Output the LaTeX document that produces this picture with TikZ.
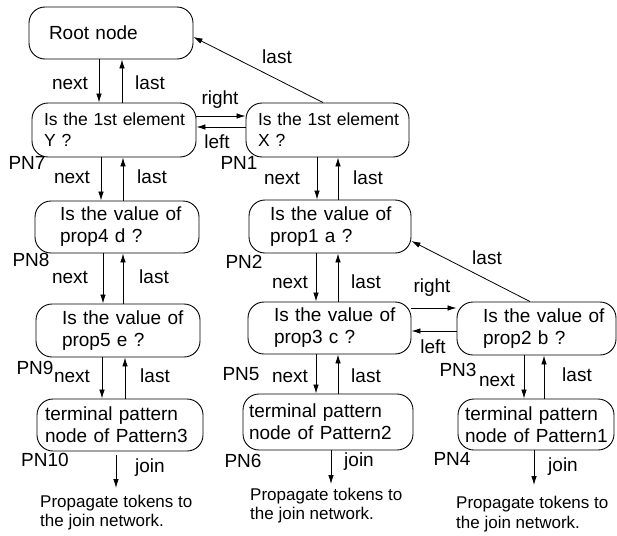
\documentclass[tikz,border=0pt]{standalone}
\usepackage{fontspec}
\setmainfont{Liberation Sans}
\usetikzlibrary{arrows.meta}
\begin{document}
\begin{tikzpicture}[x=1pt,y=-1pt,
  box/.style={draw, line width=0.9pt, rounded corners=16pt, align=left, inner ysep=1pt, font=\fontsize{19}{22}\selectfont},
  smallbox/.style={box, font=\fontsize{17.5}{21}\selectfont},
  arr/.style={line width=0.8pt, -{Latex[length=9pt,width=5.5pt]}},
  lbl/.style={inner sep=0pt, font=\fontsize{19}{22}\selectfont},
  note/.style={inner sep=0pt, align=left, anchor=west, font=\fontsize{17}{19.5}\selectfont}]
\useasboundingbox (0,0) rectangle (617,535);

% boxes
\node[box, inner xsep=20pt, text width=124pt, minimum height=52pt] (root) at (111,33) {\mbox{Root node}};
\node[smallbox, inner xsep=12pt, text width=140pt, minimum height=54pt] (pn7) at (114,130) {\mbox{Is the 1st element}\\\mbox{Y ?}};
\node[smallbox, inner xsep=12pt, text width=139pt, minimum height=54pt] (pn1) at (327.5,130) {\mbox{Is the 1st element}\\\mbox{X ?}};
\node[box, inner xsep=25pt, text width=114pt, minimum height=52pt] (pn8) at (117,227) {\mbox{Is the value of}\\\mbox{prop4 d ?}};
\node[box, inner xsep=21pt, text width=120pt, minimum height=53pt] (pn2) at (330,226.5) {\mbox{Is the value of}\\\mbox{prop1 a ?}};
\node[box, inner xsep=26pt, text width=112pt, minimum height=53pt] (pn9) at (118,330.5) {\mbox{Is the value of}\\\mbox{prop5 e ?}};
\node[box, inner xsep=26pt, text width=111pt, minimum height=52pt] (pn5) at (329.5,328) {\mbox{Is the value of}\\\mbox{prop3 c ?}};
\node[box, inner xsep=26pt, text width=107pt, minimum height=53pt] (pn3) at (536.5,328.5) {\mbox{Is the value of}\\\mbox{prop2 b ?}};
\node[box, inner xsep=8pt, text width=150pt, minimum height=52pt] (pn10) at (120,425) {\mbox{terminal pattern}\\\mbox{node of Pattern3}};
\node[box, inner xsep=6pt, text width=158pt, minimum height=56pt] (pn6) at (328,422) {\mbox{terminal pattern}\\\mbox{node of Pattern2}};
\node[box, inner xsep=7pt, text width=142pt, minimum height=51pt] (pn4) at (536,424.5) {\mbox{terminal pattern}\\\mbox{node of Pattern1}};

% free ends of join arrows
\coordinate (j10) at (116,488);
\coordinate (j6) at (331,484);
\coordinate (j4) at (534,485);

% vertical next / last arrows
\draw[arr] (root.south -| 99,0) -- (pn7.north -| 99,0);
\draw[arr] (pn7.north -| 122,0) -- (root.south -| 122,0);
\draw[arr] (pn7.south -| 101,0) -- (pn8.north -| 101,0);
\draw[arr] (pn8.north -| 123,0) -- (pn7.south -| 123,0);
\draw[arr] (pn8.south -| 103,0) -- (pn9.north -| 103,0);
\draw[arr] (pn9.north -| 123,0) -- (pn8.south -| 123,0);
\draw[arr] (pn9.south -| 102,0) -- (pn10.north -| 102,0);
\draw[arr] (pn10.north -| 125,0) -- (pn9.south -| 125,0);

\draw[arr] (pn1.south -| 317,0) -- (pn2.north -| 317,0);
\draw[arr] (pn2.north -| 338,0) -- (pn1.south -| 338,0);
\draw[arr] (pn2.south -| 316,0) -- (pn5.north -| 316,0);
\draw[arr] (pn5.north -| 338,0) -- (pn2.south -| 338,0);
\draw[arr] (pn5.south -| 316,0) -- (pn6.north -| 316,0);
\draw[arr] (pn6.north -| 338,0) -- (pn5.south -| 338,0);

\draw[arr] (pn3.south -| 524,0) -- (pn4.north -| 524,0);
\draw[arr] (pn4.north -| 544,0) -- (pn3.south -| 544,0);

% join arrows
\draw[arr] ([yshift=-4pt]pn10.south -| 116,0) -- (j10);
\draw[arr] (pn6.south -| 331,0) -- (j6);
\draw[arr] (pn4.south -| 534,0) -- (j4);

% right / left arrows
\draw[arr] (pn7.east |- 0,116) -- (pn1.west |- 0,116);
\draw[arr] (pn1.west |- 0,127) -- (pn7.east |- 0,127);
\draw[arr] (pn5.east |- 0,308) -- (pn3.west |- 0,308);
\draw[arr] (pn3.west |- 0,331) -- (pn5.east |- 0,331);

% diagonal last arrows
\draw[arr] (pn1.north -| 323,0) -- (root.east |- 0,37);
\draw[arr] (pn3.north -| 530,0) -- (pn2.east |- 0,241);

% labels
\node[lbl] (l1) at (70,83) {next};
\node[lbl] (l2) at (150,83) {last};
\node[lbl] (l3) at (277,57) {last};
\node[lbl] (l4) at (220,100) {right};
\node[lbl] (l5) at (217,142) {left};
\node[lbl] (l6) at (27,163) {PN7};
\node[lbl] (l7) at (239,163) {PN1};
\node[lbl] (l8) at (72,177) {next};
\node[lbl] (l9) at (152,177) {last};
\node[lbl] (l10) at (282,178) {next};
\node[lbl] (l11) at (368,178) {last};
\node[lbl] (l12) at (31,260) {PN8};
\node[lbl] (l13) at (244,262) {PN2};
\node[lbl] (l14) at (70,277) {next};
\node[lbl] (l15) at (154,277) {last};
\node[lbl] (l16) at (290,282) {next};
\node[lbl] (l17) at (366,282) {last};
\node[lbl] (l18) at (487,258) {last};
\node[lbl] (l19) at (432,288) {right};
\node[lbl] (l20) at (433,347) {left};
\node[lbl] (l21) at (35,368) {PN9};
\node[lbl] (l22) at (72,376) {next};
\node[lbl] (l23) at (155,376) {last};
\node[lbl] (l24) at (241,374) {PN5};
\node[lbl] (l25) at (290,376) {next};
\node[lbl] (l26) at (366,376) {last};
\node[lbl] (l27) at (458,370) {PN3};
\node[lbl] (l28) at (497,380) {next};
\node[lbl] (l29) at (577,375) {last};
\node[lbl] (l30) at (45,460) {PN10};
\node[lbl] (l31) at (150,468) {join};
\node[lbl] (l32) at (243,461) {PN6};
\node[lbl] (l33) at (359,462) {join};
\node[lbl] (l34) at (452,459) {PN4};
\node[lbl] (l35) at (563,467) {join};

% notes
\node[note] (n1) at (40,512.5) {Propagate tokens to\\the join network.};
\node[note] (n2) at (250,505.5) {Propagate tokens to\\the join network.};
\node[note] (n3) at (456,514) {Propagate tokens to\\the join network.};
\end{tikzpicture}
\end{document}
